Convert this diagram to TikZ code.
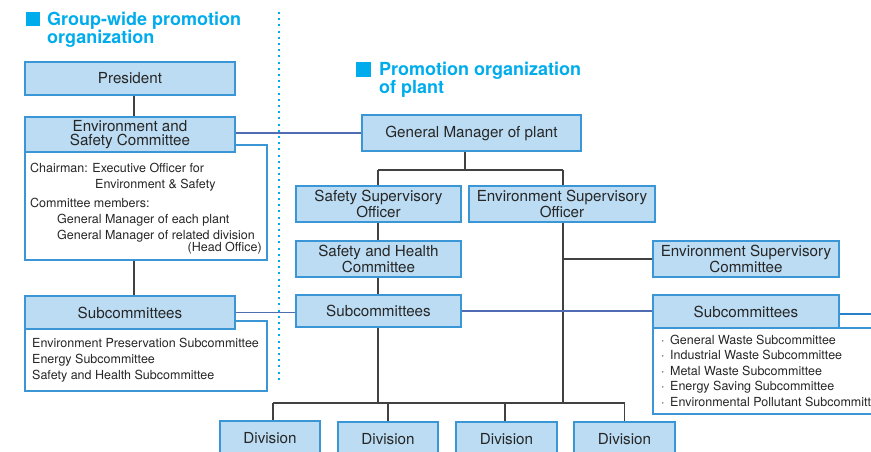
\documentclass[tikz,border=0pt]{standalone}
\usepackage{fontspec}
\setmainfont{TeX Gyre Heros}
\usetikzlibrary{backgrounds}
\definecolor{boxfill}{RGB}{187,220,243}
\definecolor{boxline}{RGB}{58,150,212}
\definecolor{titlecyan}{RGB}{0,172,236}
\definecolor{treeline}{RGB}{65,65,65}
\definecolor{linkblue}{RGB}{80,108,178}
\definecolor{outblue}{RGB}{40,128,200}
\definecolor{txt}{RGB}{38,38,38}
\begin{document}
\begin{tikzpicture}[x=1pt,y=-1pt,
  box/.style={draw=boxline, fill=boxfill, line width=1.1pt, text=txt,
    font=\fontsize{15.2}{14}\selectfont, align=center, inner sep=0pt},
  wbox/.style={draw=boxline, fill=white, line width=1.1pt, inner sep=0pt},
  tree/.style={draw=treeline, line width=1.5pt},
  link/.style={draw=linkblue, line width=1.3pt},
  outlink/.style={draw=outblue, line width=1.3pt},
  lst/.style={text=txt, font=\fontsize{12.5}{15}\selectfont, inner sep=0pt, anchor=base west},
  lstr/.style={lst, anchor=base east},
  ttl/.style={text=titlecyan, font=\bfseries\fontsize{18}{18}\selectfont, inner sep=0pt, anchor=base west},
  sq/.style={fill=titlecyan, inner sep=0pt, minimum size=14.5pt},
]
\useasboundingbox (0,0) rectangle (871,452);
\clip (0,0) rectangle (871,452);

% titles
\node[sq] (sq1) at (33,19) {};
\node[ttl] (t1a) at (47,26) {Group-wide promotion};
\node[ttl] (t1b) at (47,43.5) {organization};
\node[sq] (sq2) at (363.5,69.5) {};
\node[ttl] (t2a) at (379,76) {Promotion organization};
\node[ttl] (t2b) at (379,93) {of plant};

% dotted separator
\draw[titlecyan, line width=2pt, dash pattern=on 2pt off 4.2pt] (279,12) -- (279,381);

% white list boxes
\node[wbox, minimum width=242pt, minimum height=115pt] (envw) at (146,202.5) {};
\node[wbox, minimum width=242pt, minimum height=70pt] (subLw) at (146,356) {};
\node[wbox, minimum width=242pt, minimum height=86pt] (subRw) at (774,371) {};

% blue boxes
\node[box, minimum width=210pt, minimum height=33pt] (pres) at (130,78.5) {President};
\node[box, minimum width=210pt, minimum height=35pt] (env) at (130,134.5) {Environment and\\Safety Committee};
\node[box, minimum width=210pt, minimum height=33pt] (subL) at (130,312.5) {Subcommittees};
\node[box, minimum width=219pt, minimum height=36pt] (gm) at (471.5,133) {General Manager of plant};
\node[box, minimum width=165pt, minimum height=36pt] (sso) at (378.5,204) {Safety Supervisory\\Officer};
\node[box, minimum width=186pt, minimum height=36pt] (eso) at (562,204) {Environment Supervisory\\Officer};
\node[box, minimum width=165pt, minimum height=36pt] (shc) at (378.5,259) {Safety and Health\\Committee};
\node[box, minimum width=165pt, minimum height=32pt] (subM) at (378.5,311) {Subcommittees};
\node[box, minimum width=186pt, minimum height=36pt] (esc) at (746,259) {Environment Supervisory\\Committee};
\node[box, minimum width=186pt, minimum height=33pt] (subR) at (746,311.5) {Subcommittees};
\node[box, minimum width=100pt, minimum height=35pt] (div1) at (270,438.5) {Division};
\node[box, minimum width=100pt, minimum height=35pt] (div2) at (388,439.5) {Division};
\node[box, minimum width=101pt, minimum height=35pt] (div3) at (506.5,439.5) {Division};
\node[box, minimum width=101pt, minimum height=35pt] (div4) at (624.5,439.5) {Division};

% list texts
\node[lst] (c1) at (30,172.5) {Chairman: Executive Officer for};
\node[lst] (c2) at (95,188.3) {Environment \& Safety};
\node[lst] (c3) at (30,207.7) {Committee members:};
\node[lst] (c4) at (57,223.3) {General Manager of each plant};
\node[lst] (c5) at (57,239) {General Manager of related division};
\node[lstr] (c6) at (262,251) {(Head Office)};

\node[lst] (l1) at (32,347.3) {Environment Preservation Subcommittee};
\node[lst] (l2) at (32,363.3) {Energy Subcommittee};
\node[lst] (l3) at (32,379) {Safety and Health Subcommittee};

\node[lst] (r1) at (661,344) {·\hspace{5.5pt}General Waste Subcommittee};
\node[lst] (r2) at (661,359.6) {·\hspace{5.5pt}Industrial Waste Subcommittee};
\node[lst] (r3) at (661,375.2) {·\hspace{5.5pt}Metal Waste Subcommittee};
\node[lst] (r4) at (661,390.8) {·\hspace{5.5pt}Energy Saving Subcommittee};
\node[lst] (r5) at (661,406.4) {·\hspace{5.5pt}Environmental Pollutant Subcommittee};

% helper coordinates
\coordinate (lx) at (134,0);
\coordinate (gmx) at (465,170);
\coordinate (busL) at (378,170);
\coordinate (busR) at (563,170);
\coordinate (dbusL) at (378,403);
\coordinate (dbusR) at (563,403);
\coordinate (dbL) at (273,403);
\coordinate (dbR) at (624.5,403);
\coordinate (outR) at (871,314);

\begin{pgfonlayer}{background}
  \draw[tree] (pres.south -| lx) -- (env.north -| lx);
  \draw[tree] (envw.south -| lx) -- (subL.north -| lx);
  \draw[tree] (gm.south -| gmx) -- (gmx);
  \draw[tree] (busL) -- (busR);
  \draw[tree] (busL) -- (dbusL);
  \draw[tree] (busR) -- (dbusR);
  \draw[tree] (esc.west -| busR) -- (esc.west);
  \draw[tree] (dbL) -- (dbR);
  \draw[tree] (dbL) -- (dbL |- div1.north);
  \draw[tree] (div2.north |- dbL) -- (div2.north);
  \draw[tree] ([xshift=-1.5pt]div3.north |- dbL) -- ([xshift=-1.5pt]div3.north);
  \draw[tree] (div4.north |- dbL) -- (div4.north);
  \draw[link] (env.east |- gm.west) -- (gm.west);
  \draw[link] (subL.east) -- (subL.east -| subM.west);
  \draw[link] (subM.east) -- (subM.east -| subR.west);
  \draw[outlink] (subR.east |- outR) -- (outR);
\end{pgfonlayer}
\end{tikzpicture}
\end{document}
